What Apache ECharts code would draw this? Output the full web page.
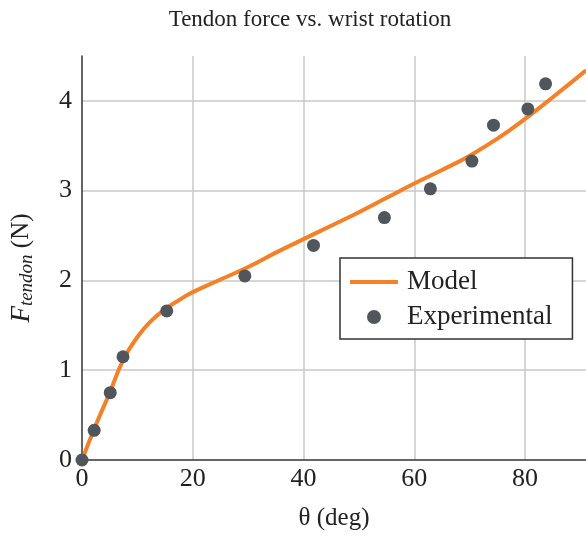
<!DOCTYPE html>
<html>
<head>
<meta charset="utf-8">
<script src="https://cdn.jsdelivr.net/npm/echarts@6/dist/echarts.min.js"></script>
<style>
html,body{margin:0;padding:0;background:#fff;}
#main{width:586px;height:536px;}
</style>
</head>
<body>
<div id="main"></div>
<script>
// model curve (theta in deg, force in N)
var modelTheta = [0, 2.5, 5, 7.5, 10, 12.5, 15, 17.5, 20, 25, 30, 35, 40, 45, 50, 55, 60, 65, 70, 75, 80, 85, 91];
var modelForce = [0, 0.39, 0.75, 1.12, 1.37, 1.55, 1.68, 1.78, 1.87, 2.01, 2.15, 2.31, 2.46, 2.61, 2.76, 2.92, 3.08, 3.23, 3.39, 3.58, 3.80, 4.04, 4.34];
// experimental points
var expTheta = [0, 2.2, 5.1, 7.4, 15.3, 29.4, 41.8, 54.6, 62.9, 70.4, 74.3, 80.5, 83.7];
var expForce = [0, 0.33, 0.75, 1.15, 1.66, 2.05, 2.39, 2.70, 3.02, 3.33, 3.73, 3.91, 4.19];

var serif = '"Liberation Serif", "DejaVu Serif", serif';
var ec_main = echarts.init(document.getElementById('main'));

function pairs(xs, ys) {
	return xs.map(function (x, i) { return [x, ys[i]]; });
}

var option = {
	animation: false,
	title: {
		text: 'Tendon force vs. wrist rotation',
		left: 305,
		top: 3,
		textAlign: 'center',
		textStyle: { fontFamily: serif, fontSize: 23, fontWeight: 'normal', color: '#222' }
	},
	legend: {
		orient: 'vertical',
		left: 340,
		top: 258,
		padding: [10, 20, 8, 10],
		itemWidth: 48,
		itemHeight: 14,
		itemGap: 7,
		backgroundColor: '#fff',
		borderColor: '#333',
		borderWidth: 1.5,
		borderRadius: 0,
		textStyle: { fontFamily: serif, fontSize: 27, lineHeight: 28, color: '#222', padding: [0, 0, 0, 4] },
		data: [
			{ name: 'Model', icon: 'path://M0,0L48,0L48,4L0,4Z', itemStyle: { color: '#f58025' } },
			{ name: 'Experimental', icon: 'circle' }
		]
	},
	grid: {
		left: 82,
		right: 0,
		top: 56,
		bottom: 76
	},
	xAxis: {
		type: 'value',
		min: 0,
		max: 91,
		interval: 20,
		name: 'θ (deg)',
		nameLocation: 'middle',
		nameGap: 46,
		nameTextStyle: { fontFamily: serif, fontSize: 25, color: '#222' },
		axisLine: { show: true, lineStyle: { color: '#333', width: 1.5 } },
		axisTick: { show: false },
		axisLabel: {
			fontFamily: serif, fontSize: 26, color: '#222', margin: 6,
			showMaxLabel: false,
			formatter: function (v) { return v % 20 === 0 ? v : ''; }
		},
		splitLine: { show: true, showMinLine: false, showMaxLine: false, lineStyle: { color: '#c8c8c8', width: 1.5 } }
	},
	yAxis: {
		type: 'value',
		min: 0,
		max: 4.5,
		interval: 1,
		name: '{i|F}{sub|tendon} (N)',
		nameLocation: 'middle',
		nameGap: 46,
		nameRotate: 90,
		nameTextStyle: {
			fontFamily: serif, fontSize: 25, color: '#222',
			padding: [0, 20, 0, 0],
			rich: {
				i: { fontFamily: serif, fontSize: 27, fontStyle: 'italic', color: '#222' },
				sub: { fontFamily: serif, fontSize: 19, fontStyle: 'italic', color: '#222', verticalAlign: 'bottom', padding: [10, 0, 0, 0] }
			}
		},
		axisLine: { show: true, lineStyle: { color: '#333', width: 1.5 } },
		axisTick: { show: false },
		axisLabel: {
			fontFamily: serif, fontSize: 26, color: '#222', margin: 10,
			showMaxLabel: false,
			formatter: function (v) { return v % 1 === 0 ? v : ''; }
		},
		splitLine: { show: true, showMinLine: false, showMaxLine: false, lineStyle: { color: '#c8c8c8', width: 1.5 } }
	},
	series: [
		{
			name: 'Model',
			type: 'line',
			smooth: true,
			symbol: 'none',
			lineStyle: { color: '#f58025', width: 4 },
			itemStyle: { color: '#f58025' },
			data: pairs(modelTheta, modelForce),
			z: 2
		},
		{
			name: 'Experimental',
			type: 'scatter',
			symbol: 'circle',
			symbolSize: 13,
			itemStyle: { color: '#50565c', opacity: 1 },
			data: pairs(expTheta, expForce),
			z: 3
		}
	]
};
ec_main.setOption(option);
</script>
</body>
</html>
